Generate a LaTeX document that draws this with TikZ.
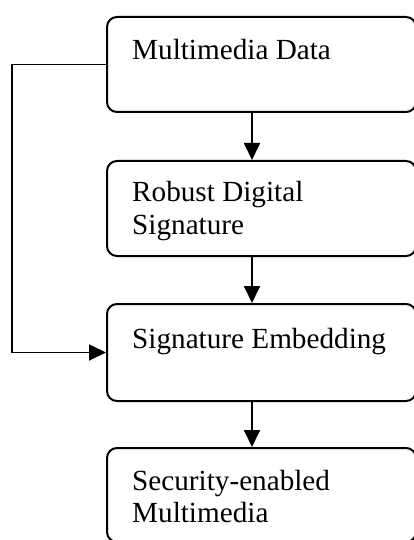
\documentclass[tikz,border=0pt]{standalone}
\usepackage{fontspec}
\setmainfont{Liberation Serif}
\usetikzlibrary{arrows.meta}
\begin{document}
\begin{tikzpicture}[x=1pt,y=-1pt,
  stage/.style={draw, line width=2pt, rounded corners=10pt, rectangle,
    minimum width=309pt, inner sep=0pt},
  label/.style={anchor=base west, inner sep=0pt, align=left,
    font=\fontsize{29.2}{32.5}\selectfont},
  flow/.style={line width=1.8pt, -{Triangle[length=17pt,width=16pt]}}]
  \useasboundingbox (0,0) rectangle (413,540);

  % process stages
  \node[stage, minimum height=95pt] (b1) at (261.5,64.5) {};
  \node[stage, minimum height=95pt] (b2) at (261.5,208.5) {};
  \node[stage, minimum height=97pt] (b3) at (261.5,352.5) {};
  \node[stage, minimum height=94pt] (b4) at (261.5,495) {};

  % stage texts (base anchor sits on the last line)
  \node[label] (t1) at (132,60) {Multimedia Data};
  \node[label] (t2) at (132,234.2) {Robust Digital\\Signature};
  \node[label] (t3) at (132,348) {Signature Embedding};
  \node[label] (t4) at (132,522.5) {Security-enabled\\Multimedia};

  % column of the downward arrows and the bypass line
  \coordinate (ax) at (252,0);
  \coordinate (fbx) at (12,200);

  \draw[flow] (b1.south -| ax) -- (b2.north -| ax);
  \draw[flow] (b2.south -| ax) -- (b3.north -| ax);
  \draw[flow] (b3.south -| ax) -- (b4.north -| ax);
  \draw[flow] (b1.west) -| (fbx) |- (b3.west);
\end{tikzpicture}
\end{document}
